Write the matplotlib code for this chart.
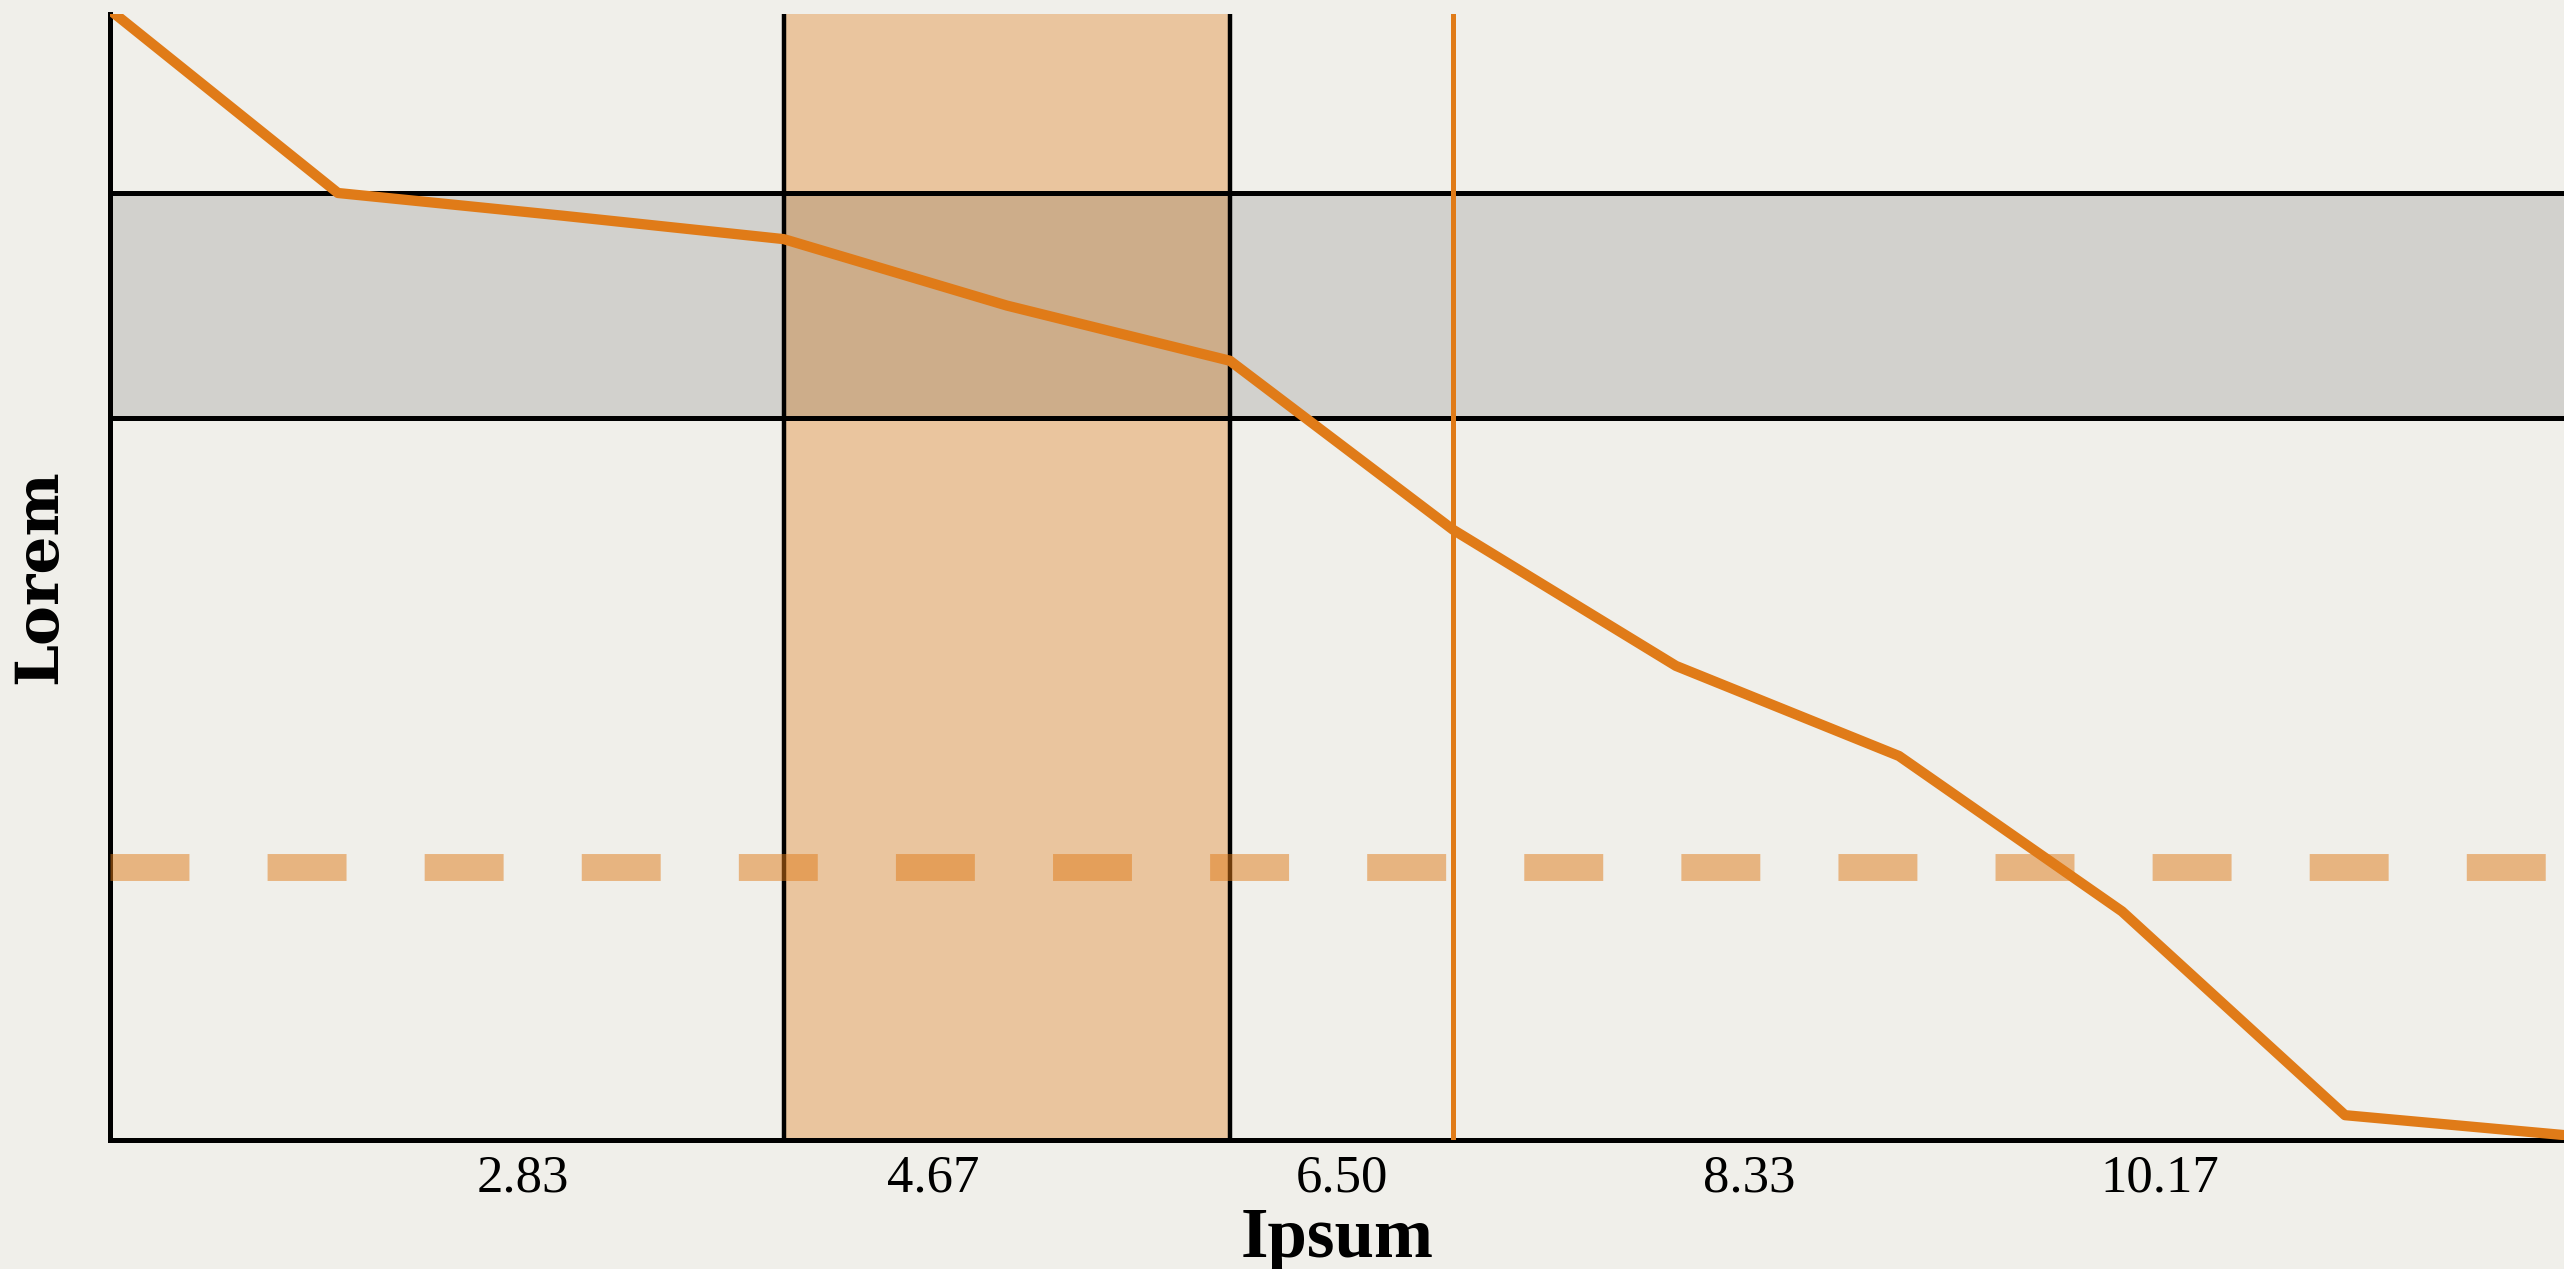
import matplotlib
matplotlib.use("Agg")
import matplotlib.pyplot as plt

# series
x_vals = [1, 2, 3, 4, 5, 6, 7, 8, 9, 10, 11, 12]
y_vals = [100.0, 84.1, 82.1, 80.0, 74.1, 69.2, 54.2, 42.1, 34.1, 20.3, 2.2, 0.4]

# reference marks
band_lo, band_hi = 64.1, 84.1
span_lo, span_hi = 4, 6
vline_x = 7
hline_y = 24.2

tick_vals = [2.83, 4.67, 6.50, 8.33, 10.17]
tick_labels = ["2.83", "4.67", "6.50", "8.33", "10.17"]

bg = "#f0efea"
orange = "#e07b18"

fig = plt.figure(figsize=(12.82, 6.345), dpi=200, facecolor=bg)
ax = fig.add_axes([0.0429, 0.1017, 0.9571, 0.8873])
ax.set_facecolor(bg)

ax.axvspan(span_lo, span_hi, color=orange, alpha=0.36, lw=0, zorder=1)
ax.axhspan(band_lo, band_hi, color="black", alpha=0.12, lw=0, zorder=1.5)
for v in (span_lo, span_hi):
    ax.axvline(v, color="black", lw=1.6, zorder=2)
for h in (band_lo, band_hi):
    ax.axhline(h, color="black", lw=1.8, zorder=2)

ax.plot(x_vals, y_vals, color=orange, lw=3.7, zorder=3)
ax.axvline(vline_x, color=orange, lw=1.8, zorder=3.5)
ax.axhline(hline_y, color=orange, alpha=0.5, lw=9.7,
           linestyle=(0, (2.93, 2.9)), dash_capstyle="butt", zorder=4)

ax.set_xlim(0.978, 11.982)
ax.set_ylim(0, 100)
ax.set_xticks(tick_vals)
ax.set_xticklabels(tick_labels, family="Liberation Serif", fontsize=19)
ax.set_yticks([])
ax.tick_params(axis="x", length=0, pad=5.4)

for s in ("top", "right"):
    ax.spines[s].set_visible(False)
for s in ("left", "bottom"):
    ax.spines[s].set_linewidth(1.8)
    ax.spines[s].set_color("black")

ax.set_xlabel("Ipsum", family="Liberation Serif", fontweight="bold",
              fontsize=25.5, labelpad=1.5)
ax.set_ylabel("Lorem", family="DejaVu Serif", fontweight="bold",
              fontsize=21.5, labelpad=15)

fig.savefig("out.png", dpi=200, facecolor=bg)
